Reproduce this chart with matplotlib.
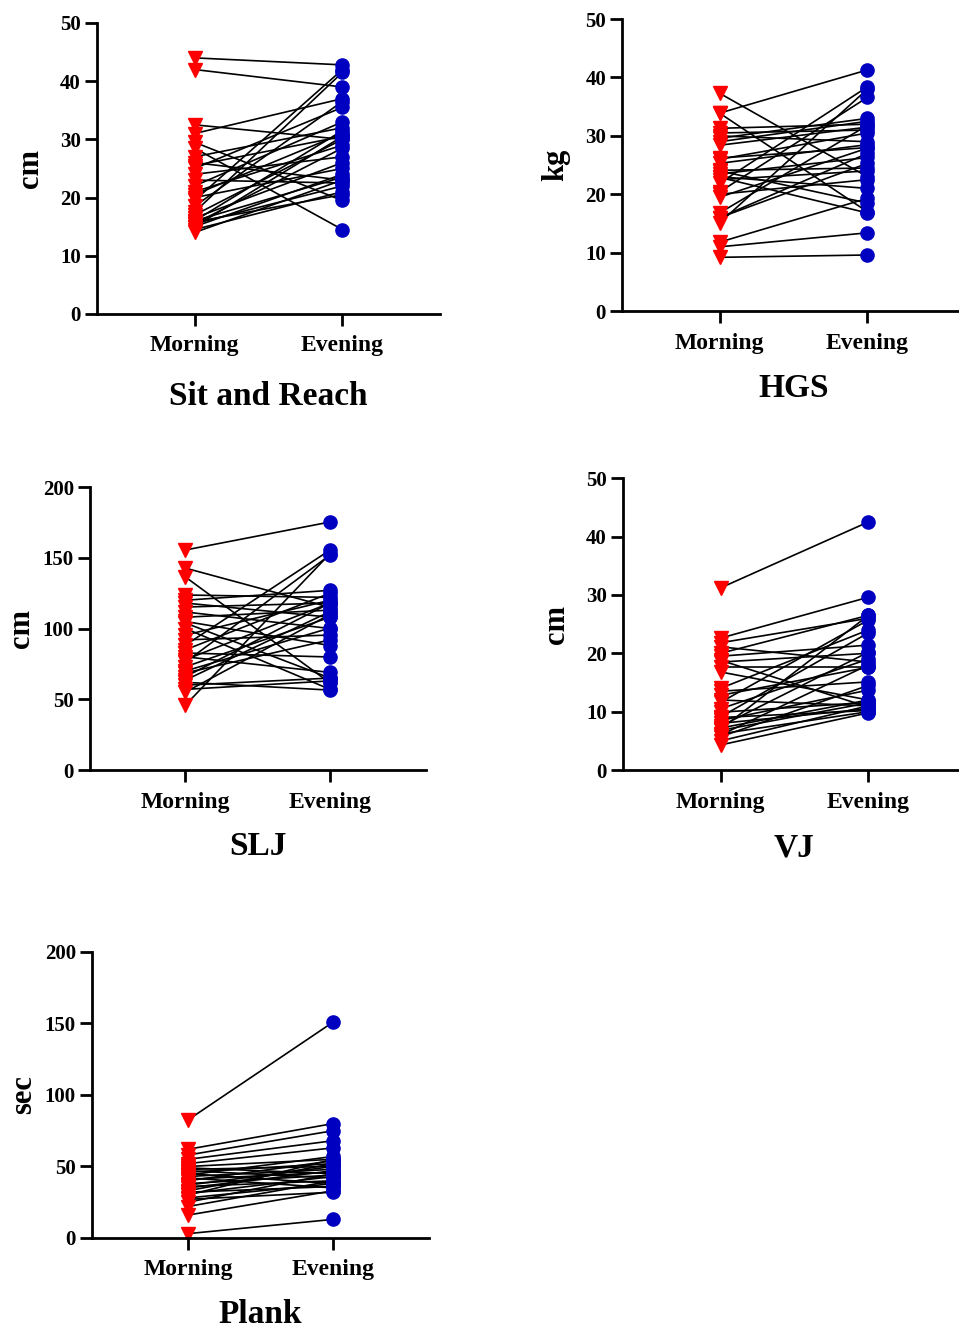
import numpy as np
import matplotlib.pyplot as plt

plt.rcParams['font.family'] = ['Liberation Serif', 'DejaVu Serif']
plt.rcParams['font.weight'] = 'bold'

sessions = ['Morning', 'Evening']

# Sit and Reach (cm)
sr_morning = [44, 42, 32.5, 31, 29.5, 28.5, 27, 26, 25.5, 25, 24, 23, 22, 21, 20.5,
              20, 19.5, 18.5, 17.5, 17, 16.5, 16, 16, 15.5, 15.5, 15, 15, 14.5, 14, 15.8]
sr_evening = [42.8, 39, 30, 37, 19.5, 14.5, 32, 23, 30.5, 35.5, 27, 22.5, 33, 29, 31,
              25, 42, 36.5, 41.5, 30, 26, 31.5, 23.5, 28.5, 22, 24, 30.5, 21, 23, 20.5]

# HGS (kg)
hgs_morning = [37.3, 33.9, 33.9, 31.3, 30.5, 29.6, 28.4, 26.2, 25.3, 24.1, 23.5, 22.9, 22.5,
               21.9, 20.4, 19.5, 16.8, 16, 15.1, 11.8, 9.2, 11, 23, 26, 29, 20, 16, 24, 30]
hgs_evening = [23, 41.3, 17, 32, 31, 33, 31.5, 28, 28.5, 24.5, 26.3, 16.8, 24,
               38.4, 36.6, 27.9, 31.8, 25.3, 38, 19.3, 9.6, 13.4, 21, 30.5, 32.5, 22.5, 27, 18.5, 29]

# SLJ (cm)
slj_morning = [155.5, 142.7, 136.4, 123.7, 120, 118, 115.2, 111.7, 108, 105, 103.9, 100, 95.4, 92, 88.3,
               85, 82.7, 80, 76.3, 73, 70, 68.6, 66, 63.6, 62, 60, 57, 55.1, 45.9, 78]
slj_evening = [175.3, 115, 61.5, 122, 127, 108, 118, 100, 113, 88, 65, 57, 120, 95.4, 155.5,
               125, 79.9, 69, 152, 108, 100.4, 92, 118, 112, 56.5, 65, 63, 110, 153, 118]

# VJ (cm)
vj_morning = [31.2, 22.6, 21.8, 21.1, 20, 19.5, 18.8, 18.5, 17.6, 16.8, 14, 13.5, 12.8, 11.6, 10.5,
              9.9, 9.1, 8.5, 8, 7.5, 7, 6.8, 6.2, 5.7, 5, 4.3, 6, 9, 12, 7.2]
vj_evening = [42.5, 29.6, 26, 18.5, 26.5, 21.4, 10.8, 20, 17.6, 12, 24, 15.1, 17.6, 25.7, 19,
              11.6, 23.5, 13.7, 10.5, 20.2, 26.5, 11.5, 10, 14.5, 11, 9.8, 18, 10.2, 11, 12]

# Plank (sec)
plank_morning = [82.5, 62, 58, 55, 52, 50, 49, 48, 47, 46, 45, 44, 43, 42, 41,
                 40, 38, 37, 36, 35, 33, 32, 31, 30, 28, 27, 25, 22, 16, 3]
plank_evening = [151, 80, 75, 68, 63, 55, 45, 50, 42, 52, 38, 57, 48, 35, 46,
                 54, 44, 50, 40, 47, 52, 36, 43, 55, 38, 32, 45, 40, 33, 13]

# right-hand panels run off the edge of the figure, like the original
panels = [
    ('Sit and Reach', 'cm', sr_morning, sr_evening, 50, 10, [0.1011, 0.7634, 0.3577, 0.2193], -0.284),
    ('HGS', 'kg', hgs_morning, hgs_evening, 50, 10, [0.6486, 0.7656, 0.3577, 0.2200], -0.264),
    ('SLJ', 'cm', slj_morning, slj_evening, 200, 50, [0.0938, 0.4197, 0.3500, 0.2133], -0.269),
    ('VJ', 'cm', vj_morning, vj_evening, 50, 10, [0.6496, 0.4197, 0.3577, 0.2200], -0.267),
    ('Plank', 'sec', plank_morning, plank_evening, 200, 50, [0.0959, 0.0671, 0.3515, 0.2155], -0.266),
]

fig = plt.figure(figsize=(9.59, 13.27), dpi=100)

for title, unit, morn, eve, ymax, step, rect, ty in panels:
    ax = fig.add_axes(rect)
    for m, e in zip(morn, eve):
        ax.plot([0, 1], [m, e], color='black', lw=1.2, zorder=1)
    ax.plot(np.zeros(len(morn)), morn, 'v', color='#ff0000', ms=10, ls='none', zorder=2)
    ax.plot(np.ones(len(eve)), eve, 'o', color='#0000c0', ms=9.5, ls='none', zorder=2)
    ax.set_xlim(-0.66, 1.66)
    ax.set_ylim(0, ymax)
    ax.set_yticks(np.arange(0, ymax + 1, step))
    ax.set_xticks([0, 1])
    ax.set_xticklabels(sessions)
    ax.spines['top'].set_visible(False)
    ax.spines['right'].set_visible(False)
    for s in ['left', 'bottom']:
        ax.spines[s].set_linewidth(2)
    ax.tick_params(axis='both', width=2, length=8.5)
    ax.tick_params(axis='y', labelsize=15, pad=3)
    ax.tick_params(axis='x', labelsize=17, pad=7)
    for lab in ax.get_xticklabels() + ax.get_yticklabels():
        lab.set_fontweight('bold')
    ax.set_ylabel(unit, fontsize=22, fontweight='bold', labelpad=11 if ymax < 100 else 5)
    ax.text(0.5, ty, title, transform=ax.transAxes,
            ha='center', va='center', fontsize=24, fontweight='bold')

plt.savefig('out.png', dpi=100)
